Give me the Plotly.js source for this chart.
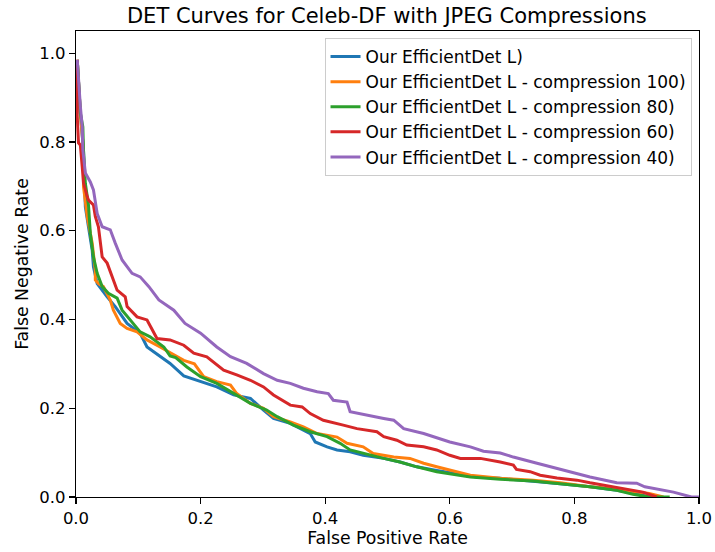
<!DOCTYPE html>
<html>
<head>
<meta charset="utf-8">
<script src="https://cdn.plot.ly/plotly-3.0.1.min.js"></script>
<style>html,body{margin:0;padding:0;background:#fff;}#chart{width:715px;height:552px;}</style>
</head>
<body>
<div id="chart"></div>
<script>
const seriesNames = [
  "Our EfficientDet L)",
  "Our EfficientDet L - compression 100)",
  "Our EfficientDet L - compression 80)",
  "Our EfficientDet L - compression 60)",
  "Our EfficientDet L - compression 40)"
];
const seriesColors = ["#1f77b4", "#ff7f0e", "#2ca02c", "#d62728", "#9467bd"];

const baseFPR = [0.002,0.007,0.012,0.015,0.020,0.026,0.028,0.034,0.050,0.063,0.082,0.103,0.114,0.135,0.151,0.173,0.200,0.226,0.253,0.280,0.301,0.317,0.344,0.365,0.376,0.384,0.403,0.419,0.440,0.461,0.494,0.520,0.547,0.579,0.611,0.643,0.681,0.734,0.777,0.825,0.868,0.905,0.920];
const baseFNR = [0.985,0.865,0.782,0.654,0.609,0.556,0.519,0.481,0.451,0.429,0.391,0.369,0.338,0.316,0.301,0.273,0.260,0.248,0.230,0.222,0.196,0.177,0.166,0.151,0.143,0.124,0.113,0.106,0.102,0.094,0.087,0.079,0.068,0.060,0.053,0.045,0.042,0.036,0.030,0.023,0.015,0.006,0.0];

const c100FPR = [0.002,0.007,0.012,0.012,0.018,0.026,0.031,0.031,0.036,0.044,0.055,0.060,0.071,0.082,0.098,0.114,0.135,0.151,0.173,0.190,0.205,0.226,0.248,0.258,0.280,0.301,0.317,0.344,0.365,0.387,0.419,0.435,0.461,0.477,0.510,0.536,0.558,0.579,0.600,0.633,0.681,0.734,0.777,0.825,0.868,0.900,0.920,0.943];
const c100FNR = [0.985,0.865,0.782,0.699,0.632,0.572,0.511,0.489,0.481,0.474,0.444,0.421,0.391,0.380,0.372,0.354,0.338,0.326,0.308,0.300,0.271,0.260,0.252,0.233,0.211,0.200,0.181,0.169,0.158,0.143,0.135,0.121,0.113,0.098,0.090,0.087,0.076,0.068,0.060,0.049,0.042,0.038,0.032,0.023,0.018,0.011,0.008,0.0];

const c80FPR = [0.002,0.007,0.011,0.012,0.015,0.018,0.020,0.023,0.028,0.034,0.042,0.052,0.066,0.074,0.090,0.103,0.119,0.141,0.151,0.160,0.178,0.200,0.226,0.253,0.280,0.306,0.323,0.349,0.376,0.403,0.424,0.440,0.461,0.494,0.520,0.547,0.579,0.611,0.633,0.681,0.734,0.777,0.825,0.868,0.894,0.920,0.953];
const c80FNR = [0.985,0.865,0.834,0.782,0.707,0.680,0.658,0.594,0.541,0.504,0.474,0.459,0.448,0.421,0.395,0.372,0.361,0.338,0.318,0.314,0.293,0.271,0.256,0.233,0.211,0.196,0.181,0.162,0.147,0.136,0.121,0.106,0.098,0.087,0.079,0.068,0.057,0.049,0.045,0.040,0.036,0.030,0.023,0.015,0.006,0.0,0.0];

const c60FPR = [0.002,0.002,0.004,0.007,0.010,0.012,0.018,0.020,0.028,0.031,0.036,0.039,0.042,0.050,0.058,0.066,0.079,0.082,0.098,0.114,0.130,0.151,0.173,0.189,0.210,0.237,0.258,0.280,0.301,0.317,0.344,0.363,0.376,0.397,0.429,0.451,0.483,0.494,0.515,0.531,0.558,0.579,0.600,0.617,0.649,0.681,0.702,0.707,0.729,0.745,0.772,0.804,0.825,0.857,0.889,0.910,0.932];
const c60FNR = [0.985,0.857,0.798,0.793,0.744,0.708,0.677,0.669,0.658,0.632,0.609,0.572,0.541,0.527,0.496,0.466,0.451,0.429,0.406,0.399,0.357,0.354,0.342,0.324,0.316,0.286,0.275,0.263,0.248,0.230,0.207,0.203,0.188,0.173,0.162,0.154,0.147,0.136,0.128,0.117,0.113,0.106,0.094,0.087,0.087,0.079,0.072,0.062,0.057,0.049,0.043,0.038,0.032,0.024,0.017,0.011,0.0];

const c40FPR = [0.002,0.004,0.007,0.010,0.011,0.015,0.023,0.028,0.034,0.042,0.055,0.063,0.074,0.090,0.103,0.117,0.133,0.157,0.175,0.200,0.226,0.248,0.274,0.301,0.323,0.344,0.365,0.387,0.405,0.413,0.435,0.440,0.467,0.494,0.510,0.526,0.558,0.600,0.633,0.654,0.681,0.702,0.740,0.777,0.825,0.868,0.900,0.913,0.937,0.959,0.988,1.0];
const c40FNR = [0.985,0.933,0.880,0.834,0.782,0.730,0.710,0.692,0.639,0.609,0.602,0.572,0.534,0.504,0.496,0.474,0.444,0.421,0.391,0.369,0.338,0.316,0.301,0.278,0.263,0.256,0.245,0.237,0.233,0.218,0.214,0.192,0.184,0.177,0.173,0.154,0.143,0.124,0.113,0.103,0.099,0.090,0.076,0.062,0.045,0.032,0.031,0.023,0.017,0.011,0.0,0.0];

const xs = [baseFPR, c100FPR, c80FPR, c60FPR, c40FPR];
const ys = [baseFNR, c100FNR, c80FNR, c60FNR, c40FNR];
const tickVals = [0, 0.2, 0.4, 0.6, 0.8, 1.0];
const tickText = ["0.0", "0.2", "0.4", "0.6", "0.8", "1.0"];

const traces = seriesNames.map((n, i) => ({
  x: xs[i], y: ys[i], name: n, type: "scatter", mode: "lines",
  line: {color: seriesColors[i], width: 3}
}));

const fam = "DejaVu Sans, sans-serif";
const axisCommon = {
  showgrid: false, zeroline: false, showline: true, mirror: true,
  linecolor: "#000", linewidth: 1.2, ticks: "outside", ticklen: 6, tickwidth: 1.2, tickcolor: "#000",
  tickvals: tickVals, ticktext: tickText, tickfont: {family: fam, size: 16.5, color: "#000"},
  automargin: false
};
const layout = {
  width: 715, height: 552,
  margin: {l: 76, r: 16, t: 31, b: 55},
  paper_bgcolor: "#fff", plot_bgcolor: "#fff",
  font: {family: fam, color: "#000"},
  title: {text: "DET Curves for Celeb-DF with JPEG Compressions", font: {family: fam, size: 21, color: "#000"}, x: 0.541, xanchor: "center", y: 0.972, yanchor: "middle"},
  xaxis: Object.assign({}, axisCommon, {range: [0, 1], title: {text: "False Positive Rate", font: {family: fam, size: 17.3, color: "#000"}, standoff: 4}}),
  yaxis: Object.assign({}, axisCommon, {range: [0, 1.05], title: {text: "False Negative Rate", font: {family: fam, size: 17.3, color: "#000"}, standoff: 6}}),
  showlegend: true,
  legend: {x: 0.988, xanchor: "right", y: 0.985, yanchor: "top", bgcolor: "rgba(255,255,255,0.8)", bordercolor: "#cccccc", borderwidth: 1, font: {family: fam, size: 17, color: "#000"}, tracegroupgap: 0}
};
Plotly.newPlot("chart", traces, layout, {displayModeBar: false, staticPlot: true});
</script>
</body>
</html>
